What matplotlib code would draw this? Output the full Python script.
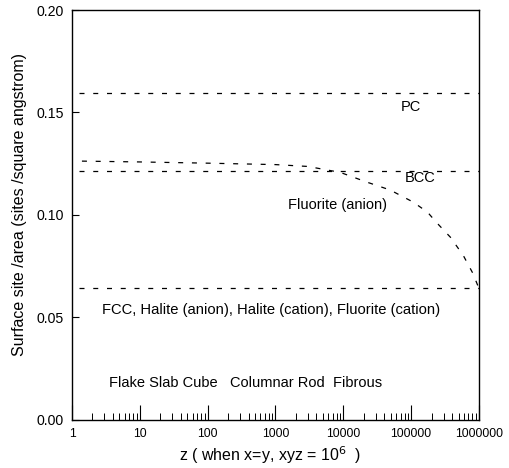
import matplotlib
matplotlib.use("Agg")
import matplotlib.pyplot as plt
import numpy as np

plt.rcParams['font.family'] = ['Liberation Sans', 'DejaVu Sans']

# Horizontal reference levels (sites / square angstrom)
z_span = [1.25, 1000000]
pc_level = 0.1595
bcc_level = 0.1215
fcc_level = 0.0640

# Fluorite (anion) curve
fluor_z = [1.4, 10, 100, 1000, 3000, 9000, 22000, 49000, 107000, 174000, 240000, 380000, 590000, 810000, 1000000]
fluor_y = [0.1262, 0.1258, 0.1252, 0.1245, 0.1236, 0.1207, 0.1160, 0.1121, 0.1062, 0.1013, 0.0960, 0.0890, 0.0800, 0.0715, 0.0640]

xticks = [1, 10, 100, 1000, 10000, 100000, 1000000]
xtick_labels = ['1', '10', '100', '1000', '10000', '100000', '1000000']
yticks = [0.00, 0.05, 0.10, 0.15, 0.20]
ytick_labels = ['0.00', '0.05', '0.10', '0.15', '0.20']

fig = plt.figure(figsize=(5.09, 4.68), dpi=100)
ax = fig.add_axes([0.1415, 0.1036, 0.7995, 0.875])

ls = (0, (4, 7))
for lvl in (pc_level, bcc_level, fcc_level):
    ax.plot(z_span, [lvl, lvl], color='black', lw=0.9, linestyle=ls)
ax.plot(fluor_z, fluor_y, color='black', lw=0.9, linestyle=ls)

ax.set_xscale('log')
ax.set_xlim(1, 1000000)
ax.set_ylim(0, 0.20)
ax.set_xticks(xticks)
ax.set_xticklabels(xtick_labels)
ax.set_yticks(yticks)
ax.set_yticklabels(ytick_labels)
ax.xaxis.set_minor_locator(matplotlib.ticker.LogLocator(base=10, subs=np.arange(2, 10)))
ax.xaxis.set_minor_formatter(matplotlib.ticker.NullFormatter())
ax.tick_params(axis='x', which='major', direction='in', length=11, width=0.8, labelsize=8.7, pad=6)
ax.tick_params(axis='x', which='minor', direction='in', length=5, width=0.7)
ax.tick_params(axis='y', which='major', direction='in', length=5, width=0.8, labelsize=10.2, pad=6)

for s in ax.spines.values():
    s.set_linewidth(1.0)

ax.set_xlabel('z ( when x=y, xyz = 10$^6$  )', fontsize=11.5, labelpad=1)
ax.set_ylabel('Surface site /area (sites /square angstrom)', fontsize=11.5, labelpad=3)
ax.xaxis.set_label_coords(0.486, -0.06)
ax.yaxis.set_label_coords(-0.11, 0.524)

ax.text(1.0e5, 0.1526, 'PC', fontsize=10.5, ha='center', va='center')
ax.text(1.35e5, 0.1180, 'BCC', fontsize=10.5, ha='center', va='center')
ax.text(8.3e3, 0.1048, 'Fluorite (anion)', fontsize=10.5, ha='center', va='center')
ax.text(2.75, 0.0535, 'FCC, Halite (anion), Halite (cation), Fluorite (cation)', fontsize=10.6, ha='left', va='center')
ax.text(3.5, 0.0178, 'Flake Slab Cube   Columnar Rod  Fibrous', fontsize=10.5, ha='left', va='center')

fig.savefig('out.png', dpi=100)
